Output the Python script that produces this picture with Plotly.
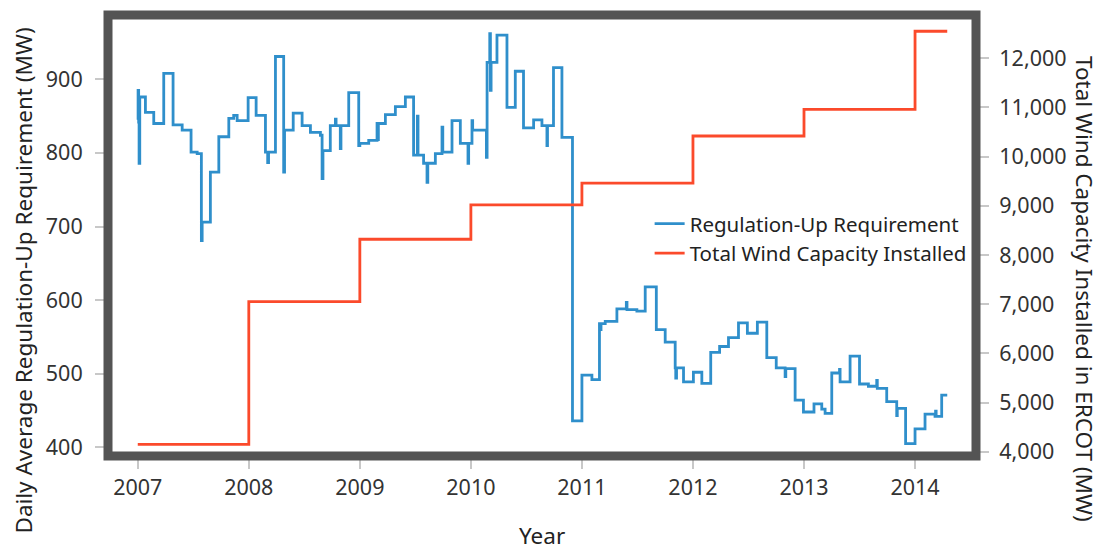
import plotly.graph_objects as go

# ---- data ----
blue_years = [2007.000, 2007.003, 2007.008, 2007.012, 2007.018, 2007.069, 2007.144, 2007.234, 2007.318, 2007.400,
              2007.480, 2007.535, 2007.573, 2007.580, 2007.654, 2007.730, 2007.820, 2007.864, 2007.895, 2007.994,
              2008.066, 2008.150, 2008.170, 2008.178, 2008.240, 2008.314, 2008.322, 2008.400, 2008.480, 2008.555,
              2008.645, 2008.660, 2008.668, 2008.734, 2008.780, 2008.786, 2008.824, 2008.830, 2008.900, 2008.990,
              2009.000, 2009.080, 2009.155, 2009.160, 2009.167, 2009.230, 2009.320, 2009.410, 2009.484, 2009.518,
              2009.524, 2009.574, 2009.605, 2009.612, 2009.680, 2009.740, 2009.747, 2009.830, 2009.905, 2009.974,
              2009.980, 2010.010, 2010.016, 2010.140, 2010.146, 2010.170, 2010.176, 2010.182, 2010.235, 2010.325,
              2010.400, 2010.474, 2010.565, 2010.640, 2010.685, 2010.690, 2010.744, 2010.820, 2010.915, 2011.000,
              2011.090, 2011.158, 2011.165, 2011.172, 2011.210, 2011.315, 2011.400, 2011.406, 2011.495, 2011.570,
              2011.670, 2011.750, 2011.840, 2011.845, 2011.852, 2011.915, 2012.004, 2012.080, 2012.160, 2012.240,
              2012.320, 2012.410, 2012.490, 2012.580, 2012.665, 2012.750, 2012.830, 2012.836, 2012.920, 2012.995,
              2013.090, 2013.160, 2013.190, 2013.250, 2013.320, 2013.325, 2013.415, 2013.500, 2013.580, 2013.655,
              2013.660, 2013.745, 2013.835, 2013.840, 2013.915, 2014.000, 2014.090, 2014.180, 2014.185, 2014.190,
              2014.240, 2014.290]
blue_values = [845, 885, 842, 786, 876, 855, 840, 908, 838, 831,
               801, 799, 681, 706, 774, 822, 847, 851, 844, 875,
               851, 801, 787, 801, 931, 774, 831, 854, 837, 828,
               824, 765, 803, 837, 846, 837, 806, 837, 882, 810,
               813, 817, 840, 818, 840, 852, 863, 876, 797, 850,
               797, 786, 760, 786, 799, 835, 801, 844, 813, 786,
               813, 844, 831, 794, 923, 962, 885, 923, 960, 862,
               911, 834, 845, 837, 810, 837, 916, 821, 436, 498,
               492, 568, 560, 568, 571, 588, 597, 587, 585, 618,
               560, 543, 508, 494, 508, 489, 502, 487, 529, 537,
               549, 569, 555, 570, 522, 508, 496, 507, 464, 448,
               459, 452, 446, 501, 506, 489, 524, 486, 483, 491,
               480, 462, 443, 453, 405, 425, 445, 442, 449, 442,
               471, 471]

wind_years = [2007.0, 2008.0, 2009.0, 2010.0, 2011.0, 2012.0, 2013.0, 2014.0, 2014.29]
wind_values = [4150, 7050, 8320, 9020, 9460, 10420, 10960, 12550, 12550]

x_ticks = [2007, 2008, 2009, 2010, 2011, 2012, 2013, 2014]
left_ticks = [400, 500, 600, 700, 800, 900]
right_ticks = [4000, 5000, 6000, 7000, 8000, 9000, 10000, 11000, 12000]

BLUE = "#2f8fcb"
RED = "#fb4a2b"
FONT = "Noto Sans"
TITLE_SIZE = 22.5

fig = go.Figure()
fig.add_trace(go.Scatter(x=blue_years, y=blue_values, mode="lines", line_shape="hv",
                         line=dict(color=BLUE, width=2.8), name="Regulation-Up Requirement"))
fig.add_trace(go.Scatter(x=wind_years, y=wind_values, mode="lines", line_shape="hv",
                         line=dict(color=RED, width=2.8), name="Total Wind Capacity Installed",
                         yaxis="y2"))

tickstyle = dict(ticks="outside", ticklen=12, tickwidth=2, tickcolor="#c8c8c8",
                 showgrid=False, zeroline=False, showline=False,
                 tickfont=dict(family=FONT, size=21.5, color="#333333"))

# page has an 8px body margin, so the figure is drawn 8px smaller and offset
fig.update_layout(
    width=1095, height=545,
    margin=dict(l=99.5, r=127, t=7, b=97),
    paper_bgcolor="white", plot_bgcolor="white",
    font=dict(family=FONT, color="#222222"),
    xaxis=dict(range=[2006.732, 2014.549], tickvals=x_ticks, ticktext=[str(v) for v in x_ticks],
               **tickstyle),
    yaxis=dict(range=[388.2, 987.4], tickvals=left_ticks, ticklabelstandoff=8, **tickstyle),
    yaxis2=dict(range=[3912.6, 12880], tickvals=right_ticks, overlaying="y", side="right",
                tickformat=",d", ticklabelstandoff=6, **tickstyle),
    showlegend=True,
    legend=dict(x=0.624, y=0.572, xanchor="left", yanchor="top", bgcolor="rgba(0,0,0,0)",
                font=dict(family=FONT, size=20.5, color="#222222"), tracegroupgap=0),
    shapes=[dict(type="rect", xref="paper", yref="paper", x0=0, x1=1, y0=0, y1=1,
                 line=dict(color="#545454", width=9), layer="above")],
    annotations=[
        dict(text="Year", xref="paper", yref="paper", x=0.5, y=(456 - 535) / 441,
             xanchor="center", yanchor="middle",
             showarrow=False, font=dict(family=FONT, size=TITLE_SIZE, color="#222222")),
        dict(text="Daily Average Regulation-Up Requirement (MW)", xref="paper", yref="paper",
             x=(22 - 107.5) / 868.5, y=(456 - 281) / 441, textangle=-90,
             xanchor="center", yanchor="middle",
             showarrow=False, font=dict(family=FONT, size=TITLE_SIZE, color="#222222")),
        dict(text="Total Wind Capacity Installed in ERCOT (MW)", xref="paper", yref="paper",
             x=(1085 - 107.5) / 868.5, y=(456 - 289) / 441, textangle=90,
             xanchor="center", yanchor="middle",
             showarrow=False, font=dict(family=FONT, size=TITLE_SIZE, color="#222222")),
    ],
)

fig.write_html("out.html")
